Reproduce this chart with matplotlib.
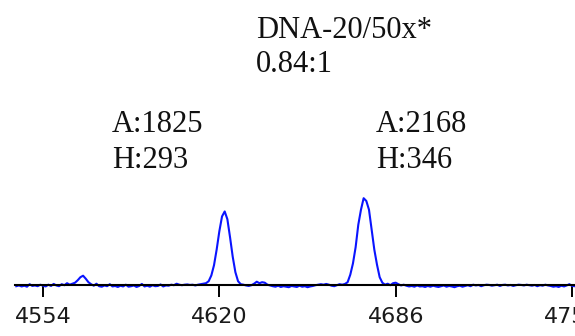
import matplotlib
matplotlib.use("Agg")
import matplotlib.pyplot as plt
import numpy as np

# Electropherogram trace (size units on x, RFU on y), one sample per size unit
trace_start = 4544
signal = [
    -6, -3, -7, -4, -8, 2, -5, -3, -6, 0,
    -4, -7, 0, -5, 3, -3, -6, 2, -2, 6, 0, 4,
    8, 18, 30, 36, 24, 10, 2,
    -4, 4, -6, -8, -3, -6, 2, -7, -5, -9, -4, -7, 0, -8, -6, -3, -9, -5, 3, -7,
    -4, -8, -2, -6, -5, 1, -7, -3, -4, 0, -2, 4, 0, -2, 0, 1, -1, 0, -3, 0, 2,
    4, 6, 14, 37, 78, 141, 214, 273, 293, 262, 190, 112, 50, 14, 2,
    0, -3, -5, -2, 4, 12, 6, 10, 8, 0, -3, -6, -8, -4, -9, -6, -8, -10, -5, -7,
    -9, -4, -8, -6, -10, -7, -5, -2, 0, 2, 0, 3, 0, -4, -6, -2, 2,
    0, 3, 10, 40, 85, 150, 240, 300, 346, 335, 300, 220, 140, 80, 30, 8, 0,
    4, -2, 6, 8, 2, -3, 0, -4, -7, -5, -8, -3, -7, -6, -9, -5, -8, -4, -7, -9,
    -6, -3, -8, -5, -7, -10, -6, -4, -8, -5, -2, -6, 0, -3, -1, -6, -2, 0, -1, -4,
    -2, 0, -5, -1, 0, -3, -1, -5, -2, 0, -1, -3, 0, -2, -4, -1, -6, -2, -4, 0,
    -3, -5, -8, -6, -9, -4, -7, -3, 2, -5, -6,
]
size_ticks = [4554, 4620, 4686, 4752]
sample_name = "DNA-20/50x*"
peak_area = [1825, 2168]
peak_height = [293, 346]

W, H = 575, 336
fig = plt.figure(figsize=(W / 100, H / 100), dpi=100)
ax = fig.add_axes([0, 0, 1, 1])

x = np.arange(trace_start, trace_start + len(signal))
ax.plot(x, signal, color="#0a14ff", lw=1.5, zorder=2)

# size axis: 2.672 px per unit, 4554 sits at x=43 px; baseline 51 px above bottom
px_per_unit = 2.672
x0 = 4554 - 43 / px_per_unit
ax.set_xlim(x0, x0 + W / px_per_unit)
y_scale = 0.25
ax.set_ylim(-51.3 / y_scale, (H - 51.3) / y_scale)

for s in ("top", "right", "left"):
    ax.spines[s].set_visible(False)
ax.spines["bottom"].set_position(("data", 0))
ax.spines["bottom"].set_linewidth(1.5)
ax.spines["bottom"].set_color("black")
ax.spines["bottom"].set_bounds(x0 + 15 / px_per_unit, x0 + W / px_per_unit)
ax.spines["bottom"].set_zorder(3)
ax.set_yticks([])
ax.set_xticks(size_ticks)
ax.set_xticklabels([str(t) for t in size_ticks])
ax.tick_params(axis="x", direction="out", length=8.6, width=1.4, pad=7.6,
               labelsize=16, colors="black", labelcolor="#1a1a1a")
for lbl in ax.get_xticklabels():
    lbl.set_fontfamily("DejaVu Sans")
ax.patch.set_visible(False)

serif = dict(family="Liberation Serif", fontsize=22, color="#111111",
             ha="left", va="baseline")

def put(text, px, baseline):
    fig.text(px / W, 1 - baseline / H, text, **serif)

put(sample_name, 256, 38)
put(f"{peak_area[0] / peak_area[1]:.2f}:1", 256, 72)
for left, a, h in zip([112, 376], peak_area, peak_height):
    put(f"A:{a}", left, 132)
    put(f"H:{h}", left, 168)

fig.savefig("out.png", dpi=100)
